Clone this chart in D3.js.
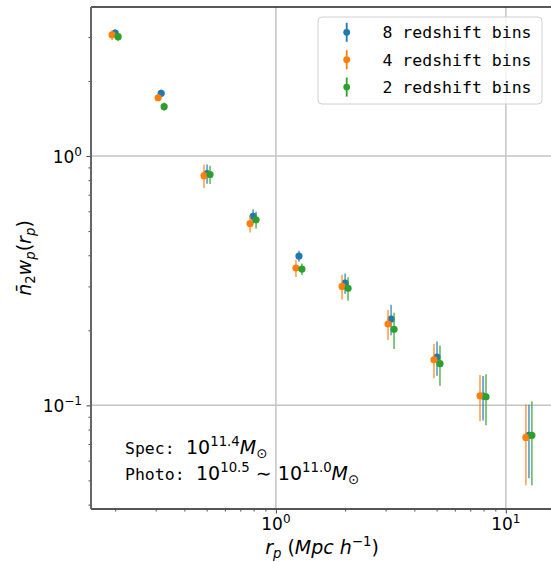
<!DOCTYPE html>
<html>
<head>
<meta charset="utf-8">
<script src="https://cdn.jsdelivr.net/npm/d3@7"></script>
<style>
  body { margin: 0; background: #fff; }
  svg { display: block; }
</style>
</head>
<body>
<svg width="551" height="562"></svg>
<script>
const svg = d3.select("svg");

// projected separation bins (Mpc/h)
const rp = [0.2, 0.317, 0.502, 0.796, 1.26, 2.0, 3.17, 5.02, 7.96, 12.6];

const seriesNames = ["8 redshift bins", "4 redshift bins", "2 redshift bins"];
const colors = ["#1f77b4", "#ff7f0e", "#2ca02c"];
// small horizontal shift so the error bars don't sit on top of each other
const xShift = [1.0, 0.97, 1.03];

const w8 = [3.11, 1.785, 0.850, 0.573, 0.397, 0.309, 0.222, 0.156, 0.109, 0.0758];
const e8 = [0.11, 0.06, 0.075, 0.038, 0.020, 0.029, 0.031, 0.0245, 0.022, 0.0248];
const w4 = [3.06, 1.713, 0.834, 0.536, 0.3555, 0.300, 0.212, 0.1524, 0.1093, 0.0744];
const e4 = [0.14, 0.05, 0.089, 0.042, 0.028, 0.034, 0.029, 0.024, 0.023, 0.0266];
const w2 = [3.01, 1.577, 0.843, 0.555, 0.352, 0.2946, 0.2018, 0.1469, 0.1083, 0.0758];
const e2 = [0.12, 0.058, 0.071, 0.0425, 0.019, 0.032, 0.0335, 0.027, 0.025, 0.028];

const xMajor = [1, 10];
const xMinor = [0.2, 0.3, 0.4, 0.5, 0.6, 0.7, 0.8, 0.9, 2, 3, 4, 5, 6, 7, 8, 9];
const yMajor = [0.1, 1];
const yMinor = [0.04, 0.05, 0.06, 0.07, 0.08, 0.09, 0.2, 0.3, 0.4, 0.5, 0.6, 0.7, 0.8, 0.9, 2, 3];

const series = [
    { name: seriesNames[0], w: w8, e: e8 },
    { name: seriesNames[1], w: w4, e: e4 },
    { name: seriesNames[2], w: w2, e: e2 }
];

// plot box (right edge runs past the window)
const boxLeft = 91, boxTop = 7, boxRight = 560, boxBottom = 509;

const x = d3.scaleLog().domain([0.157, 17.2]).range([boxLeft, boxRight]);
const y = d3.scaleLog().domain([0.0384, 3.96]).range([boxBottom, boxTop]);

const mathFont = "DejaVu Sans";
const monoFont = "DejaVu Sans Mono";

// write a text made of pieces (super/subscripts as tspans)
function mathText(g, px, py, parts, opts) {
    const t = g.append("text")
        .attr("x", px)
        .attr("y", py)
        .attr("font-family", (opts && opts.family) || mathFont)
        .attr("font-size", (opts && opts.size) || 17)
        .attr("fill", "#000")
        .attr("text-anchor", (opts && opts.anchor) || "start");
    if (opts && opts.transform) t.attr("transform", opts.transform);
    let shift = 0;
    parts.forEach(p => {
        const s = t.append("tspan").text(p.t);
        const target = p.dy || 0;
        s.attr("dy", target - shift);
        shift = target;
        if (p.size) s.attr("font-size", p.size);
        if (p.italic) s.attr("font-style", "italic");
        if (p.family) s.attr("font-family", p.family);
        if (p.dx) s.attr("dx", p.dx);
    });
    return t;
}

svg.append("defs").append("clipPath").attr("id", "plotClip")
    .append("rect")
    .attr("x", boxLeft).attr("y", boxTop)
    .attr("width", boxRight - boxLeft).attr("height", boxBottom - boxTop);

// grid lines at the decades
const grid = svg.append("g").attr("stroke", "#c4c4c4").attr("stroke-width", 1.5);
xMajor.forEach(v => {
    grid.append("line")
        .attr("x1", x(v)).attr("x2", x(v))
        .attr("y1", boxTop).attr("y2", boxBottom);
});
yMajor.forEach(v => {
    grid.append("line")
        .attr("x1", boxLeft).attr("x2", boxRight)
        .attr("y1", y(v)).attr("y2", y(v));
});

// tick marks via d3 axes, labels drawn by hand below
const tickColor = "#444";
function tickAxis(axis, tx, ty) {
    const g = svg.append("g").attr("transform", `translate(${tx},${ty})`).call(axis);
    g.select(".domain").remove();
    g.selectAll("line").attr("stroke", tickColor).attr("stroke-width", 1);
    g.selectAll("text").remove();
}
tickAxis(d3.axisBottom(x).tickValues(xMinor).tickSize(2.5), 0, boxBottom);
tickAxis(d3.axisBottom(x).tickValues(xMajor).tickSize(4.5), 0, boxBottom);
tickAxis(d3.axisLeft(y).tickValues(yMinor).tickSize(2.5), boxLeft, 0);
tickAxis(d3.axisLeft(y).tickValues(yMajor).tickSize(4.5), boxLeft, 0);

// spines
svg.append("line")
    .attr("x1", boxLeft).attr("x2", boxRight).attr("y1", boxTop).attr("y2", boxTop)
    .attr("stroke", "#222").attr("stroke-width", 1.5);
svg.append("line")
    .attr("x1", boxLeft).attr("x2", boxLeft).attr("y1", boxTop).attr("y2", boxBottom)
    .attr("stroke", "#666").attr("stroke-width", 2);
svg.append("line")
    .attr("x1", boxLeft).attr("x2", boxRight).attr("y1", boxBottom).attr("y2", boxBottom)
    .attr("stroke", "#555").attr("stroke-width", 2);

// tick labels 10^n
xMajor.forEach(v => {
    const p = Math.round(Math.log10(v));
    mathText(svg, x(v), boxBottom + 21, [
        { t: "10" },
        { t: String(p).replace("-", "\u2212"), size: 12, dy: -7 }
    ], { anchor: "middle", size: 17 });
});
yMajor.forEach(v => {
    const p = Math.round(Math.log10(v));
    mathText(svg, boxLeft - 9, y(v) + 7, [
        { t: "10" },
        { t: String(p).replace("-", "\u2212"), size: 12, dy: -7 }
    ], { anchor: "end", size: 17 });
});

// data: error bars + markers, one series after the other
const plot = svg.append("g").attr("clip-path", "url(#plotClip)");
series.forEach((s, i) => {
    const g = plot.append("g");
    rp.forEach((r, j) => {
        const cx = x(r * xShift[i]);
        g.append("line")
            .attr("x1", cx).attr("x2", cx)
            .attr("y1", y(s.w[j] + s.e[j]))
            .attr("y2", y(s.w[j] - s.e[j]))
            .attr("stroke", colors[i])
            .attr("stroke-width", 1.8)
            .attr("stroke-opacity", 0.65);
        g.append("circle")
            .attr("cx", cx)
            .attr("cy", y(s.w[j]))
            .attr("r", 3.6)
            .attr("fill", colors[i]);
    });
});

// legend
const legend = svg.append("g");
legend.append("rect")
    .attr("x", 318).attr("y", 17)
    .attr("width", 224).attr("height", 87)
    .attr("rx", 4)
    .attr("fill", "#fff").attr("fill-opacity", 0.8)
    .attr("stroke", "#d0d0d0").attr("stroke-width", 1);
series.forEach((s, i) => {
    const cy = 32.3 + i * 27.4;
    legend.append("line")
        .attr("x1", 346.7).attr("x2", 346.7)
        .attr("y1", cy - 9.5).attr("y2", cy + 9.5)
        .attr("stroke", colors[i]).attr("stroke-width", 1.8);
    legend.append("circle")
        .attr("cx", 346.7).attr("cy", cy).attr("r", 3.4)
        .attr("fill", colors[i]);
    legend.append("text")
        .attr("x", 382.5).attr("y", cy + 6)
        .attr("font-family", monoFont)
        .attr("font-size", 16.5)
        .text(s.name);
});

// sample annotation
svg.append("text")
    .attr("x", 125).attr("y", 454)
    .attr("font-family", monoFont).attr("font-size", 16.5)
    .text("Spec:");
mathText(svg, 186, 454, [
    { t: "10" },
    { t: "11.4", size: 13.3, dy: -8 },
    { t: "M", italic: true, dy: 0 },
    { t: "\u2299", size: 13.3, dy: 4 }
], { size: 19 });

svg.append("text")
    .attr("x", 125).attr("y", 479.5)
    .attr("font-family", monoFont).attr("font-size", 16.5)
    .text("Photo:");
mathText(svg, 196, 479.5, [
    { t: "10" },
    { t: "10.5", size: 13.3, dy: -8 },
    { t: " \u223C ", dy: 0 },
    { t: "10" },
    { t: "11.0", size: 13.3, dy: -8 },
    { t: "M", italic: true, dy: 0 },
    { t: "\u2299", size: 13.3, dy: 4 }
], { size: 19 });

// axis labels
mathText(svg, 322, 554, [
    { t: "r", italic: true },
    { t: "p", italic: true, size: 13.3, dy: 4 },
    { t: " (", dy: 0 },
    { t: "Mpc h", italic: true },
    { t: "\u22121", size: 13.3, dy: -8 },
    { t: ")", dy: 0 }
], { anchor: "middle", size: 19 });

mathText(svg, 0, 0, [
    { t: "n\u0304", italic: true },
    { t: "2", size: 13.3, dy: 4 },
    { t: "w", italic: true, dy: 0 },
    { t: "p", italic: true, size: 13.3, dy: 4 },
    { t: "(", dy: 0 },
    { t: "r", italic: true },
    { t: "p", italic: true, size: 13.3, dy: 4 },
    { t: ")", dy: 0 }
], { anchor: "middle", size: 19, transform: "translate(31,258) rotate(-90)" });
</script>
</body>
</html>
